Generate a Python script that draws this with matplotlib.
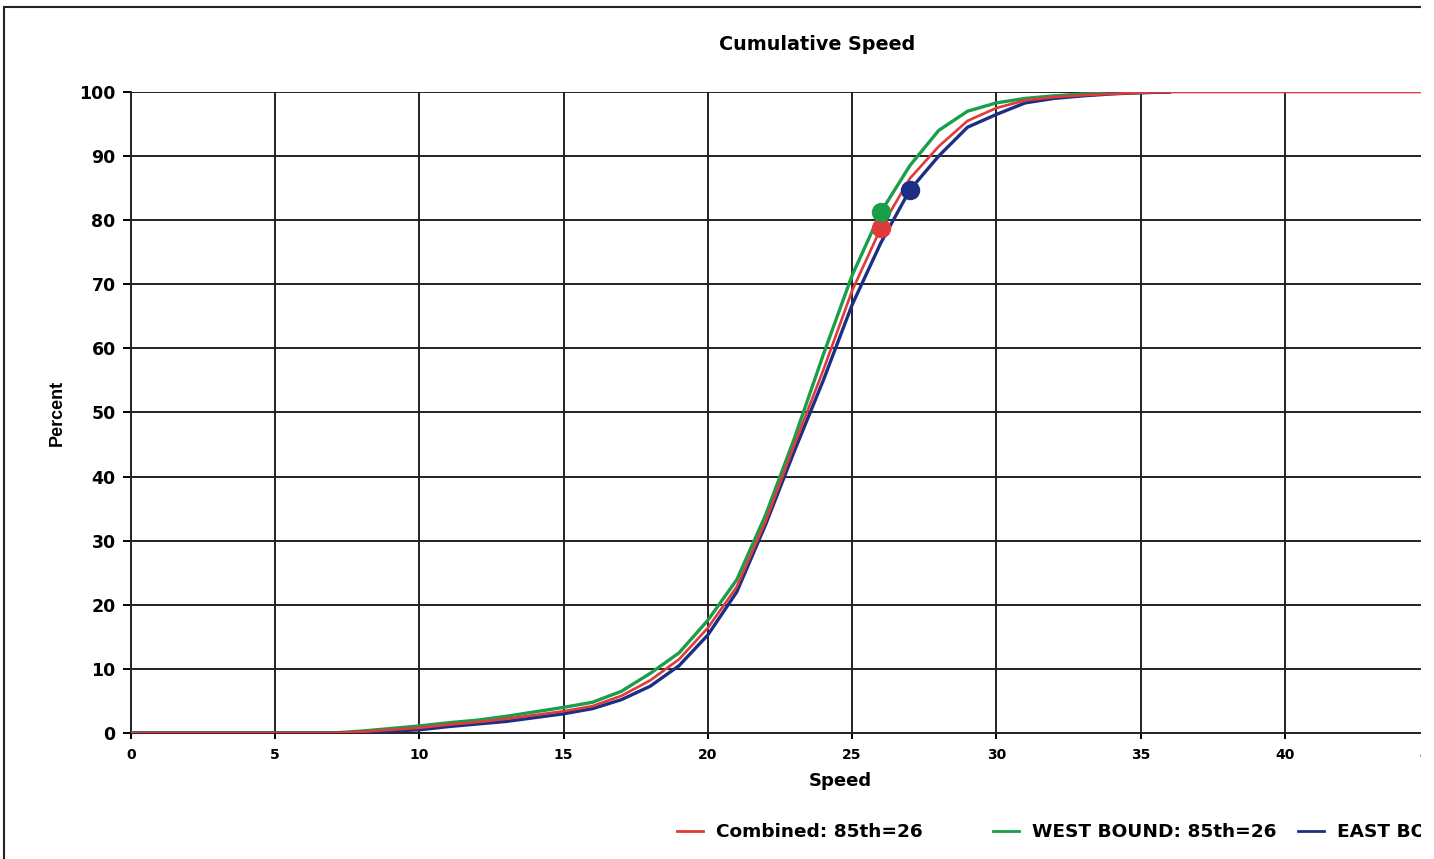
import numpy as np
from matplotlib import pyplot as plt
from matplotlib.patches import Rectangle
from matplotlib.lines import Line2D

plt.rcParams['font.family'] = ['DejaVu Sans']

# speeds (integer bins) and cumulative percentages
speed = list(range(0, 46))
combined = [0, 0, 0, 0, 0, 0, 0, 0, 0.2, 0.5, 0.8, 1.3, 1.7, 2.2, 2.8, 3.4, 4.2, 5.8, 8.2,
            11.5, 16.4, 22.8, 33, 45, 56.6, 69, 78.8, 86.5, 91.5, 95.5, 97.5, 98.7,
            99.2, 99.5, 99.7, 99.9, 100, 100, 100, 100, 100, 100, 100, 100, 100, 100]
west_speed = list(range(0, 37))
west = [0, 0, 0, 0, 0, 0, 0, 0, 0.3, 0.7, 1.1, 1.6, 2.0, 2.6, 3.3, 4.0, 4.8, 6.5, 9.3,
        12.5, 17.6, 23.9, 34, 46, 59, 71.4, 81.3, 88.5, 94, 97, 98.3, 99,
        99.4, 99.7, 99.8, 99.9, 100]
east_speed = list(range(0, 37))
east = [0, 0, 0, 0, 0, 0, 0, 0, 0.1, 0.3, 0.5, 1.0, 1.4, 1.8, 2.4, 3.0, 3.8, 5.2, 7.3,
        10.5, 15.3, 22, 32.5, 44, 55, 66.8, 76.5, 84.7, 90, 94.5, 96.5, 98.3,
        99, 99.4, 99.7, 99.9, 100]

labels = ['Combined: 85th=26', 'WEST BOUND: 85th=26', 'EAST BOUND: 85th=27']
p85_speed = [26, 26, 27]
p85_pct = [78.8, 81.3, 84.7]
colors = ['#e03a3a', '#1a9e4a', '#1c2f85']

fig = plt.figure(figsize=(14.34, 8.59), dpi=100)
ax = fig.add_axes([131 / 1434, 126 / 859, (1429 - 131) / 1434, (733 - 92) / 859])

ax.plot(west_speed, west, color=colors[1], lw=2.4, zorder=3)
ax.plot(east_speed, east, color=colors[2], lw=2.4, zorder=3)
ax.plot(speed, combined, color=colors[0], lw=1.9, zorder=4)
for s, p, c in zip(p85_speed, p85_pct, colors):
    ax.plot(s, p, 'o', color=c, ms=13, zorder=5)

ax.set_xlim(0, 45)
ax.set_ylim(0, 100)
ax.set_xticks(range(0, 46, 5))
ax.set_yticks(range(0, 101, 10))
ax.grid(True, color='#222222', lw=1.4)
ax.set_axisbelow(True)
for side in ['top', 'right']:
    ax.spines[side].set_visible(False)
for side in ['left', 'bottom']:
    ax.spines[side].set_color('#222222')
    ax.spines[side].set_linewidth(1.4)
ax.tick_params(axis='y', length=6, width=1.4, labelsize=12.5, pad=5)
ax.tick_params(axis='x', length=4, width=1.4, labelsize=10, pad=7)
for t in ax.get_yticklabels():
    t.set_fontweight('bold')
for t in ax.get_xticklabels():
    t.set_fontweight('bold')

ax.set_xlabel('Speed', fontsize=13, fontweight='bold')
ax.xaxis.set_label_coords((840 - 131) / (1429 - 131), -(772 - 733) / (733 - 92))
ax.set_ylabel('Percent', fontsize=13, fontweight='bold',
              family=['Liberation Sans Narrow', 'Liberation Sans', 'DejaVu Sans'])
ax.yaxis.set_label_coords(-(131 - 66) / (1429 - 131), 0.5)
fig.text(817 / 1434, 1 - 45 / 859, 'Cumulative Speed', ha='center', va='center',
         fontsize=13.8, fontweight='bold')

# legend entries, laid out like the original (one per series)
leg_x = [677, 993, 1298]
for lab, c, x0 in zip(labels, colors, leg_x):
    fig.legend([Line2D([], [], color=c, lw=2)], [lab], loc='center left',
               bbox_to_anchor=(x0 / 1434, 1 - 832 / 859), frameon=False,
               prop={'weight': 'bold', 'size': 13.3}, handlelength=1.4,
               handletextpad=0.7, borderpad=0, borderaxespad=0)

# outer border of the scanned page, cropped on the right and bottom
fig.patches.append(Rectangle((4 / 1434, -0.1), 1.2, 1 - 7 / 859 + 0.1,
                             transform=fig.transFigure, fill=False,
                             edgecolor='#222222', lw=1.5, zorder=10))
# crop of the original on the right
fig.patches.append(Rectangle((1421 / 1434, 0), 0.1, 1, transform=fig.transFigure,
                             facecolor='white', edgecolor='none', zorder=20))

fig.savefig('out.png', dpi=100)
